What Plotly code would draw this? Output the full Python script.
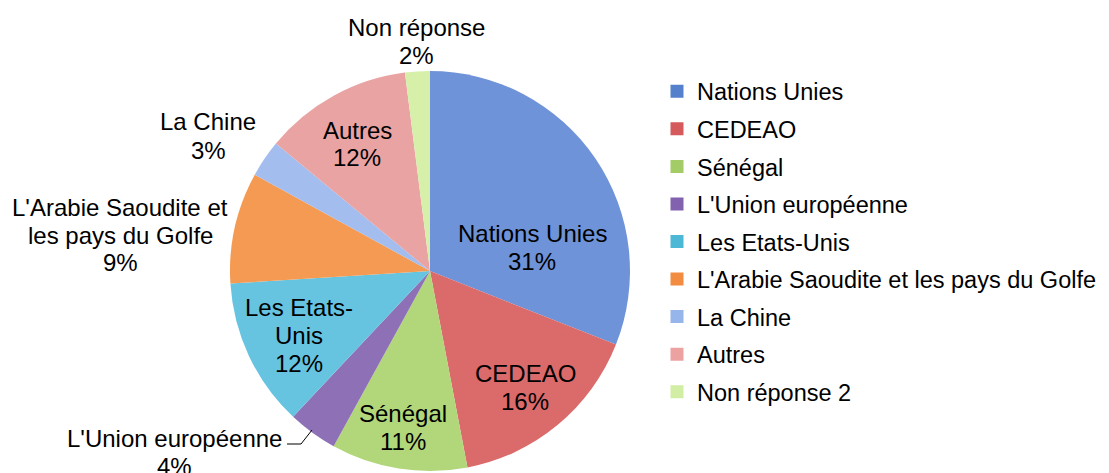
import plotly.graph_objects as go

legend_names = ["Nations Unies", "CEDEAO", "Sénégal", "L'Union européenne", "Les Etats-Unis",
                "L'Arabie Saoudite et les pays du Golfe", "La Chine", "Autres", "Non réponse 2"]
slice_lines = [["Nations Unies"], ["CEDEAO"], ["Sénégal"], ["L'Union européenne"], ["Les Etats-", "Unis"],
               ["L'Arabie Saoudite et", "les pays du Golfe"], ["La Chine"], ["Autres"], ["Non réponse"]]
values = [31, 16, 11, 4, 12, 9, 3, 12, 2]
colors = ["#6f93d8", "#db6a6a", "#b2d67a", "#8e70b6", "#66c4e0", "#f59a52", "#a3bdee", "#eaa3a3", "#d6f0aa"]
legend_colors = ["#5580cc", "#d45a5c", "#a3cb66", "#8262ae", "#4cb8d6", "#f28c40", "#96b5ea", "#eda2a2", "#d2eea5"]

# page body has an 8px margin: figure drawn at offset (8, 8)
OFF = 8
W, H = 1109 - OFF, 473 - OFF
cx, cy, R = 430 - OFF, 271 - OFF, 200

# label anchor (centre of the first line), in window pixels, per slice
label_pos = {0: (532, 233), 1: (525, 373), 2: (403, 413), 3: (174, 438), 4: (299, 307),
             5: (120, 207), 6: (208, 122), 7: (357, 130), 8: (416, 27)}
LINE = 28

fig = go.Figure()
fig.add_trace(go.Pie(
    labels=legend_names, values=values,
    sort=False, direction="clockwise", rotation=0,
    marker=dict(colors=colors, line=dict(width=0)),
    textinfo="none", showlegend=False, hoverinfo="label+percent",
    domain=dict(x=[(cx - R) / W, (cx + R) / W], y=[(H - cy - R) / H, (H - cy + R) / H]),
))

for i, name in enumerate(legend_names):
    fig.add_trace(go.Scatter(
        x=[None], y=[None], mode="markers", name=name, legendgroup=str(i),
        marker=dict(symbol="square", size=13, color=legend_colors[i]),
        showlegend=True,
    ))

total = sum(values)
font = dict(family="Liberation Sans, Arial", size=24, color="black")
for i, (px, py) in label_pos.items():
    lines = slice_lines[i] + [f"{round(values[i] * 100 / total)}%"]
    for k, t in enumerate(lines):
        fig.add_annotation(
            x=(px - OFF) / W, y=1 - (py - OFF + k * LINE) / H, xref="paper", yref="paper",
            xanchor="center", yanchor="middle", text=t, showarrow=False, font=font,
        )

# leader line for L'Union européenne
pts = [(287, 444), (301, 444), (312, 430)]
path = "M " + " L ".join(f"{(x - OFF) / W} {1 - (y - OFF) / H}" for x, y in pts)
fig.add_shape(type="path", xref="paper", yref="paper", path=path,
              line=dict(color="black", width=1))

fig.update_layout(
    width=W, height=H, margin=dict(l=0, r=0, t=0, b=0, autoexpand=False),
    paper_bgcolor="white", plot_bgcolor="white",
    xaxis=dict(visible=False), yaxis=dict(visible=False),
    legend=dict(x=649 / W, y=1 - 61.5 / H, xanchor="left", yanchor="top",
                font=dict(family="Liberation Sans, Arial", size=23.5, color="black"),
                tracegroupgap=4, traceorder="grouped", itemsizing="trace",
                bgcolor="rgba(0,0,0,0)"),
)

fig.write_html("out.html")
